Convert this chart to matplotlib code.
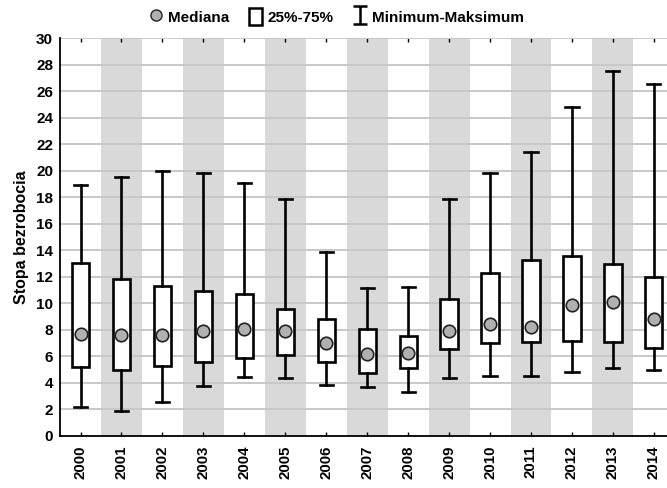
import matplotlib
matplotlib.use("Agg")
import matplotlib.pyplot as plt
from matplotlib.lines import Line2D
from matplotlib.patches import Patch
from matplotlib.path import Path

plt.rcParams['font.family'] = ['Liberation Sans', 'DejaVu Sans']
plt.rcParams['font.weight'] = 'bold'

years = ['2000', '2001', '2002', '2003', '2004', '2005', '2006', '2007',
         '2008', '2009', '2010', '2011', '2012', '2013', '2014']
mins = [2.2, 1.85, 2.55, 3.75, 4.45, 4.35, 3.85, 3.7, 3.35, 4.35, 4.55, 4.55, 4.85, 5.1, 4.95]
q1 = [5.2, 5.0, 5.3, 5.55, 5.85, 6.1, 5.55, 4.75, 5.1, 6.55, 7.05, 7.1, 7.15, 7.1, 6.6]
medians = [7.7, 7.65, 7.65, 7.95, 8.1, 7.9, 7.05, 6.2, 6.25, 7.95, 8.45, 8.25, 9.85, 10.1, 8.8]
q3 = [13.05, 11.85, 11.3, 10.9, 10.7, 9.55, 8.8, 8.05, 7.55, 10.3, 12.3, 13.25, 13.6, 13.0, 12.0]
maxs = [18.9, 19.5, 20.0, 19.8, 19.1, 17.9, 13.85, 11.15, 11.25, 17.9, 19.85, 21.4, 24.8, 27.5, 26.55]

stats = []
for i in range(len(years)):
    stats.append({'label': years[i], 'whislo': mins[i], 'q1': q1[i], 'med': medians[i],
                  'q3': q3[i], 'whishi': maxs[i], 'mean': medians[i], 'fliers': []})

fig = plt.figure(figsize=(6.67, 4.88), dpi=100)
ax = fig.add_axes([0.09, 0.1066, 0.921, 0.815])

# shaded bands for every other year
for i in range(1, len(years), 2):
    ax.axvspan(i - 0.5, i + 0.5, color='#d9d9d9', lw=0, zorder=0)

lw = 1.9
ax.bxp(stats, positions=range(len(years)), widths=0.42, showmeans=True, showfliers=False,
       patch_artist=True,
       boxprops=dict(facecolor='white', edgecolor='black', linewidth=lw),
       whiskerprops=dict(color='black', linewidth=lw),
       capprops=dict(color='black', linewidth=lw),
       capwidths=0.32,
       medianprops=dict(linewidth=0),
       meanprops=dict(marker='o', markerfacecolor='#b0b0b0', markeredgecolor='#222222',
                      markersize=9, markeredgewidth=1.2),
       zorder=3)

ax.set_xlim(-0.5, 14.5)
ax.set_ylim(0, 30)
ax.set_yticks(range(0, 31, 2))
ax.set_xticks(range(len(years)))
ax.set_xticklabels(years, rotation=90, fontsize=10.8, fontweight='bold')
ax.tick_params(axis='y', labelsize=11, direction='in', length=0, pad=5)
ax.tick_params(axis='x', direction='in', length=3, top=True, width=1, pad=7)
for lab in ax.get_yticklabels():
    lab.set_fontweight('bold')
ax.yaxis.grid(True, color='#c8c8c8', linewidth=1.4, zorder=1)
ax.set_axisbelow(True)
for s in ['top', 'right']:
    ax.spines[s].set_visible(False)
ax.spines['left'].set_linewidth(1.3)
ax.spines['bottom'].set_linewidth(1.3)
ax.set_ylabel('Stopa bezrobocia', fontsize=11.5, fontweight='bold', labelpad=5)

ibar = Path([(-0.8, 1), (0.8, 1), (0, 1), (0, -1), (-0.8, -1), (0.8, -1)],
            [Path.MOVETO, Path.LINETO, Path.MOVETO, Path.LINETO, Path.MOVETO, Path.LINETO])
handles = [
    Line2D([], [], ls='none', marker='o', markerfacecolor='#b0b0b0', markeredgecolor='#222222',
           markersize=8),
    Patch(facecolor='white', edgecolor='black', linewidth=1.8),
    Line2D([], [], ls='none', marker=ibar, markersize=13, markerfacecolor='none',
           markeredgecolor='black', markeredgewidth=1.8),
]
fig.legend(handles, ['Mediana', '25%-75%', 'Minimum-Maksimum'], loc='center',
           bbox_to_anchor=(0.505, 0.966), ncol=3, frameon=False, fontsize=11,
           handlelength=0.8, handletextpad=0.4, columnspacing=1.3, handleheight=1.3)

fig.savefig('out.png', dpi=100)
